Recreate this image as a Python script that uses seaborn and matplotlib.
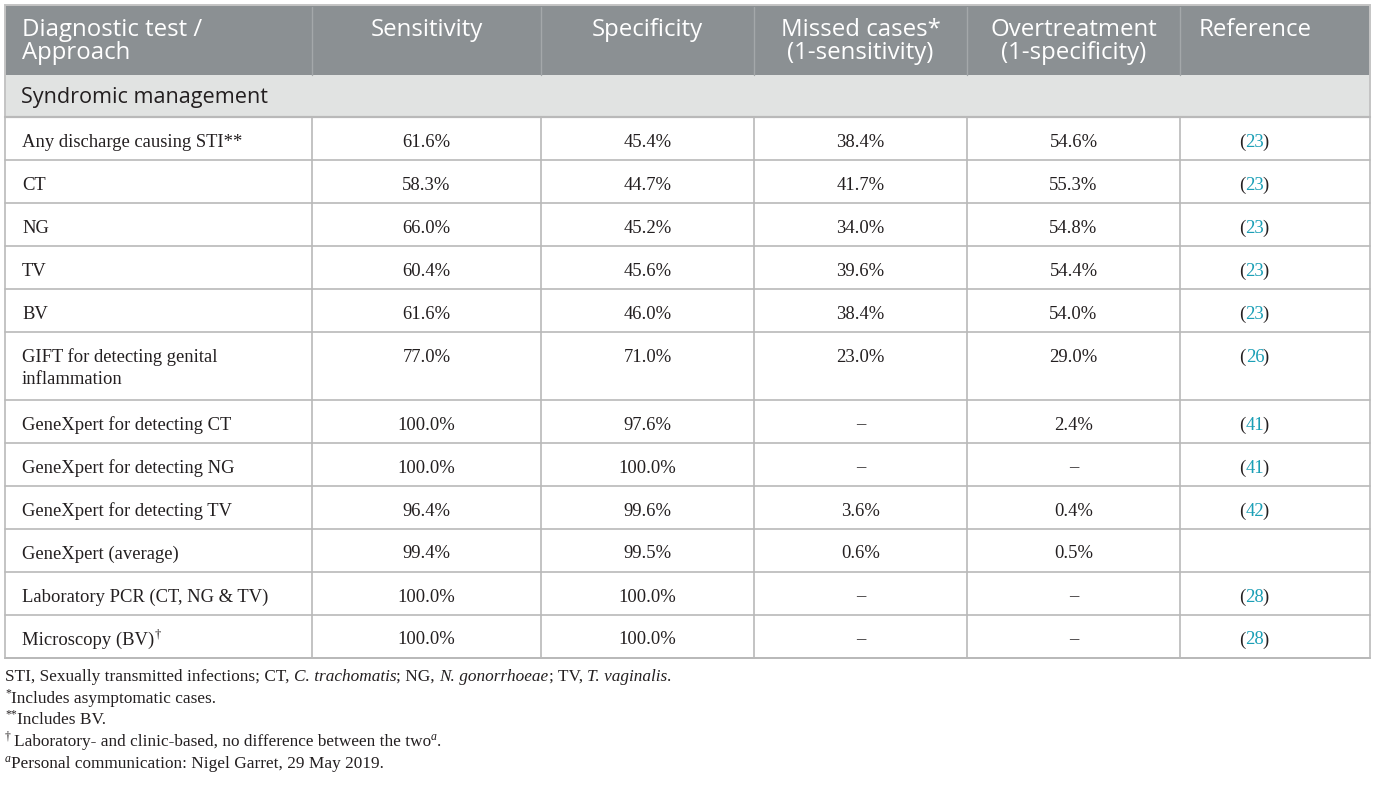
import matplotlib
matplotlib.use("Agg")
import matplotlib.pyplot as plt
import seaborn as sns
from matplotlib.patches import Rectangle

sns.set_theme(style="white")

# ---- table content ----
headers = ["Diagnostic test /\nApproach", "Sensitivity", "Specificity",
           "Missed cases*\n(1-sensitivity)", "Overtreatment\n(1-specificity)", "Reference"]
section = "Syndromic management"
tests = ["Any discharge causing STI**", "CT", "NG", "TV", "BV",
         "GIFT for detecting genital\ninflammation",
         "GeneXpert for detecting CT", "GeneXpert for detecting NG",
         "GeneXpert for detecting TV", "GeneXpert (average)",
         "Laboratory PCR (CT, NG & TV)", "Microscopy (BV)"]
test_marks = ["", "", "", "", "", "", "", "", "", "", "", "\u2020"]
sensitivity = [61.6, 58.3, 66.0, 60.4, 61.6, 77.0, 100.0, 100.0, 96.4, 99.4, 100.0, 100.0]
specificity = [45.4, 44.7, 45.2, 45.6, 46.0, 71.0, 97.6, 100.0, 99.6, 99.5, 100.0, 100.0]
missed = [38.4, 41.7, 34.0, 39.6, 38.4, 23.0, None, None, 3.6, 0.6, None, None]
overtreat = [54.6, 55.3, 54.8, 54.4, 54.0, 29.0, 2.4, None, 0.4, 0.5, None, None]
refs = ["23", "23", "23", "23", "23", "26", "41", "41", "42", "", "28", "28"]

# ---- layout (pixels) ----
W, H = 1375, 789
col_edges = [5, 312, 541, 754, 967, 1180, 1370]
head_top, head_bot, sec_bot = 5, 75, 117
row_heights = [43, 43, 43, 43, 43, 68, 43, 43, 43, 43, 43, 43]

HEAD_BG = "#8b9093"
HEAD_SEP = "#a4a8aa"
SEC_BG = "#e1e3e2"
GRID = "#b9b9b9"
TXT = "#231f20"
TEAL = "#1b9fb6"
SANS = ["Open Sans", "DejaVu Sans"]
SERIF = ["Liberation Serif", "DejaVu Serif"]
HEAD_FS = 17.3
BODY_FS = 13.4

fig = plt.figure(figsize=(W / 100, H / 100), dpi=100)
ax = fig.add_axes([0, 0, 1, 1])
ax.set_xlim(0, W)
ax.set_ylim(H, 0)
ax.axis("off")
renderer = fig.canvas.get_renderer()


def advance(text, fs, style, family):
    # width of a piece including its spacing, measured against a sentinel bar
    a = ax.text(0, 0, text + "|", fontsize=fs, style=style, family=family)
    b = ax.text(0, 0, "|", fontsize=fs, style=style, family=family)
    w = a.get_window_extent(renderer).width - b.get_window_extent(renderer).width
    a.remove()
    b.remove()
    return w


def segments(x, y, segs, ha="left", size=BODY_FS, family=SERIF):
    """draw a run of text pieces side by side: segs = (text, color, style, sup)"""
    objs = []
    cur = x
    for text, color, style, sup in segs:
        fs = size * 0.68 if sup else size
        dy = -size * 0.42 if sup else 0
        t = ax.text(cur, y + dy, text, fontsize=fs, color=color, style=style,
                    family=family, ha="left", va="center")
        cur += advance(text, fs, style, family)
        objs.append(t)
    if ha == "center":
        shift = (cur - x) / 2
        for t in objs:
            t.set_x(t.get_position()[0] - shift)
    return objs


def reference(cx, y, num):
    # "(num)" with black brackets and a teal number
    full = ax.text(cx, y, f"({num})", fontsize=BODY_FS, family=SERIF,
                   ha="center", va="center", alpha=0)
    bb = full.get_window_extent(renderer)
    ax.text(bb.x0, y, "(", fontsize=BODY_FS, family=SERIF, color=TXT,
            ha="left", va="center")
    ax.text(bb.x1 - 1.5, y, ")", fontsize=BODY_FS, family=SERIF, color=TXT,
            ha="right", va="center")
    ax.text(bb.x0 + advance("(", BODY_FS, "normal", SERIF), y, num, fontsize=BODY_FS,
            family=SERIF, color=TEAL, ha="left", va="center")


# header
x0, x1 = col_edges[0], col_edges[-1]
ax.add_patch(Rectangle((x0, head_top), x1 - x0, head_bot - head_top, color=HEAD_BG, lw=0))
for xe in col_edges[1:-1]:
    ax.plot([xe, xe], [head_top + 2, head_bot], color=HEAD_SEP, lw=1.0)
for i, h in enumerate(headers):
    for k, line in enumerate(h.split("\n")):
        if i == 0:
            ax.text(col_edges[0] + 17, 30 + 23 * k, line, fontsize=HEAD_FS, color="white",
                    family=SANS, ha="left", va="center")
        elif i == 5:
            ax.text(1255, 30 + 23 * k, line, fontsize=HEAD_FS, color="white",
                    family=SANS, ha="center", va="center")
        else:
            cx = (col_edges[i] + col_edges[i + 1]) / 2
            ax.text(cx, 30 + 23 * k, line, fontsize=HEAD_FS, color="white",
                    family=SANS, ha="center", va="center")

# section row
ax.add_patch(Rectangle((x0, head_bot), x1 - x0, sec_bot - head_bot, color=SEC_BG, lw=0))
ax.text(col_edges[0] + 16, 97, section, fontsize=15.6, color=TXT, family=SANS,
        ha="left", va="center")


def pct(v):
    return "\u2013" if v is None else f"{v:.1f}%"


# body rows
top = sec_bot
row_tops = []
for r, name in enumerate(tests):
    row_tops.append(top)
    ty = top + 25
    lines = name.split("\n")
    for k, line in enumerate(lines):
        segs = [(line, TXT, "normal", False)]
        if k == len(lines) - 1 and test_marks[r]:
            segs.append((test_marks[r], TXT, "normal", True))
        segments(col_edges[0] + 17, ty + 22 * k, segs)
    for c, vals in enumerate([sensitivity, specificity, missed, overtreat]):
        cx = (col_edges[c + 1] + col_edges[c + 2]) / 2
        ax.text(cx, ty, pct(vals[r]), fontsize=BODY_FS, color=TXT, family=SERIF,
                ha="center", va="center")
    if refs[r]:
        reference(1255, ty, refs[r])
    top += row_heights[r]
body_bot = top

# grid lines
for yy in row_tops[1:]:
    ax.plot([x0, x1], [yy, yy], color=GRID, lw=1.2)
ax.plot([x0, x1], [sec_bot, sec_bot], color=GRID, lw=1.6)
for xe in col_edges[1:-1]:
    ax.plot([xe, xe], [sec_bot, body_bot], color=GRID, lw=1.2)
ax.add_patch(Rectangle((x0, head_top), x1 - x0, body_bot - head_top, fill=False,
                       ec="#c4c4c4", lw=1.4))
ax.plot([x0, x1], [body_bot, body_bot], color=GRID, lw=1.4)

# footnotes
fn = 12.4
fy = [677, 699, 720, 742, 764]
segments(x0, fy[0], [("STI, Sexually transmitted infections; CT, ", TXT, "normal", False),
                     ("C. trachomatis", TXT, "italic", False),
                     ("; NG, ", TXT, "normal", False),
                     ("N. gonorrhoeae", TXT, "italic", False),
                     ("; TV, ", TXT, "normal", False),
                     ("T. vaginalis", TXT, "italic", False),
                     (".", TXT, "normal", False)], size=fn)
segments(x0, fy[1], [("*", TXT, "normal", True),
                     ("Includes asymptomatic cases.", TXT, "normal", False)], size=fn)
segments(x0, fy[2], [("**", TXT, "normal", True),
                     ("Includes BV.", TXT, "normal", False)], size=fn)
segments(x0, fy[3], [("\u2020 ", TXT, "normal", True),
                     ("Laboratory- and clinic-based, no difference between the two", TXT, "normal", False),
                     ("a", TXT, "italic", True),
                     (".", TXT, "normal", False)], size=fn)
segments(x0, fy[4], [("a", TXT, "italic", True),
                     ("Personal communication: Nigel Garret, 29 May 2019.", TXT, "normal", False)], size=fn)

fig.savefig("out.png", dpi=100)
